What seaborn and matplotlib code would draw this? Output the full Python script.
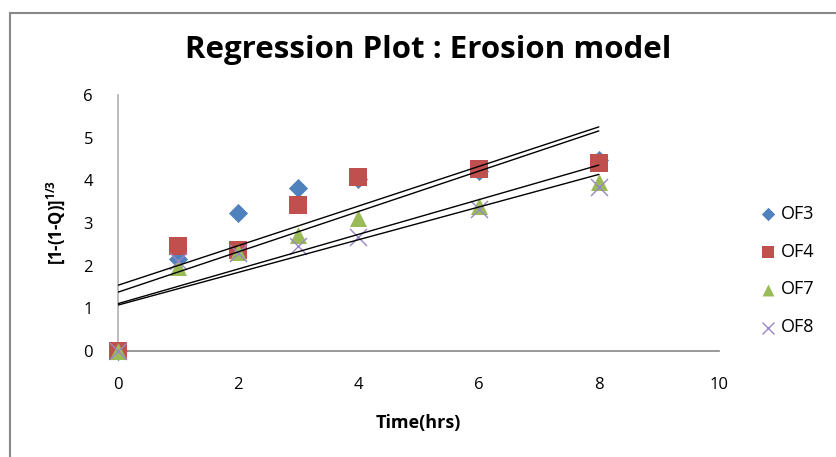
import matplotlib
matplotlib.use("Agg")
import matplotlib.pyplot as plt
import seaborn as sns
import pandas as pd
from matplotlib.patches import Rectangle

time_hrs = [0, 1, 2, 3, 4, 6, 8]
of3 = [0.0, 2.16, 3.23, 3.81, 4.02, 4.22, 4.48]
of4 = [0.0, 2.47, 2.37, 3.42, 4.07, 4.26, 4.40]
of7 = [0.0, 1.98, 2.33, 2.72, 3.11, 3.40, 3.97]
of8 = [0.0, 2.10, 2.29, 2.47, 2.68, 3.33, 3.85]
series_names = ["OF3", "OF4", "OF7", "OF8"]
x_ticks = [0, 2, 4, 6, 8, 10]
y_ticks = [0, 1, 2, 3, 4, 5, 6]

sns.set_theme(style="white")
plt.rcParams["font.family"] = ["Open Sans", "DejaVu Sans"]
plt.rcParams["mathtext.default"] = "regular"
plt.rcParams["text.color"] = "black"
plt.rcParams["axes.labelcolor"] = "black"

fig = plt.figure(figsize=(8.37, 4.57), dpi=100)
ax = fig.add_axes([118 / 837, 106 / 457, 601 / 837, 256 / 457])

styles = {
    "OF3": dict(marker="D", color="#4F81BD", s=95),
    "OF4": dict(marker="s", color="#C0504D", s=150),
    "OF7": dict(marker="^", color="#9BBB59", s=150),
    "OF8": dict(marker="x", color="#9A86C4", s=150),
}
values = {"OF3": of3, "OF4": of4, "OF7": of7, "OF8": of8}

for name in series_names:
    df = pd.DataFrame({"t": time_hrs, "v": values[name]})
    st = styles[name]
    kw = dict(linewidth=1.0) if st["marker"] == "x" else dict(linewidth=0)
    sns.scatterplot(data=df, x="t", y="v", ax=ax, marker=st["marker"],
                    color=st["color"], s=st["s"], label=name, zorder=3,
                    clip_on=False, **kw)

for name in series_names:
    df = pd.DataFrame({"t": time_hrs, "v": values[name]})
    sns.regplot(data=df, x="t", y="v", ax=ax, scatter=False, ci=None,
                truncate=True, color="black",
                line_kws=dict(linewidth=1.0, zorder=4))

ax.set_xlim(0, 10)
ax.set_ylim(0, 6)
ax.set_xticks(x_ticks)
ax.set_yticks(y_ticks)
ax.tick_params(axis="both", length=0, labelsize=12, colors="#000000")
ax.tick_params(axis="x", pad=19)
ax.tick_params(axis="y", pad=18)
for sp in ["top", "right"]:
    ax.spines[sp].set_visible(False)
ax.spines["left"].set_color("#B0B0B0")
ax.spines["bottom"].set_color("#888888")
ax.spines["left"].set_linewidth(1.2)
ax.spines["bottom"].set_linewidth(1.2)

ax.set_xlabel("Time(hrs)", fontsize=13, fontweight="bold", labelpad=15)
ax.set_ylabel("[1-(1-Q)]$^{1/3}$", fontsize=12, fontweight="bold", labelpad=12)

fig.text(428 / 837, 1 - 50 / 457, "Regression Plot : Erosion model",
         ha="center", va="center", fontsize=22.5, fontweight="bold")

leg = ax.legend(loc="upper left", bbox_to_anchor=(1.04, 0.635), frameon=False,
                fontsize=13, labelspacing=1.1, handletextpad=0.2,
                handlelength=1.0, markerscale=0.7)

fig.patches.append(Rectangle((10 / 837, -0.1), 1.0, 1.1 - 13 / 457,
                             transform=fig.transFigure, fill=False,
                             edgecolor="#888888", linewidth=1.5))

fig.savefig("out.png", dpi=100)
